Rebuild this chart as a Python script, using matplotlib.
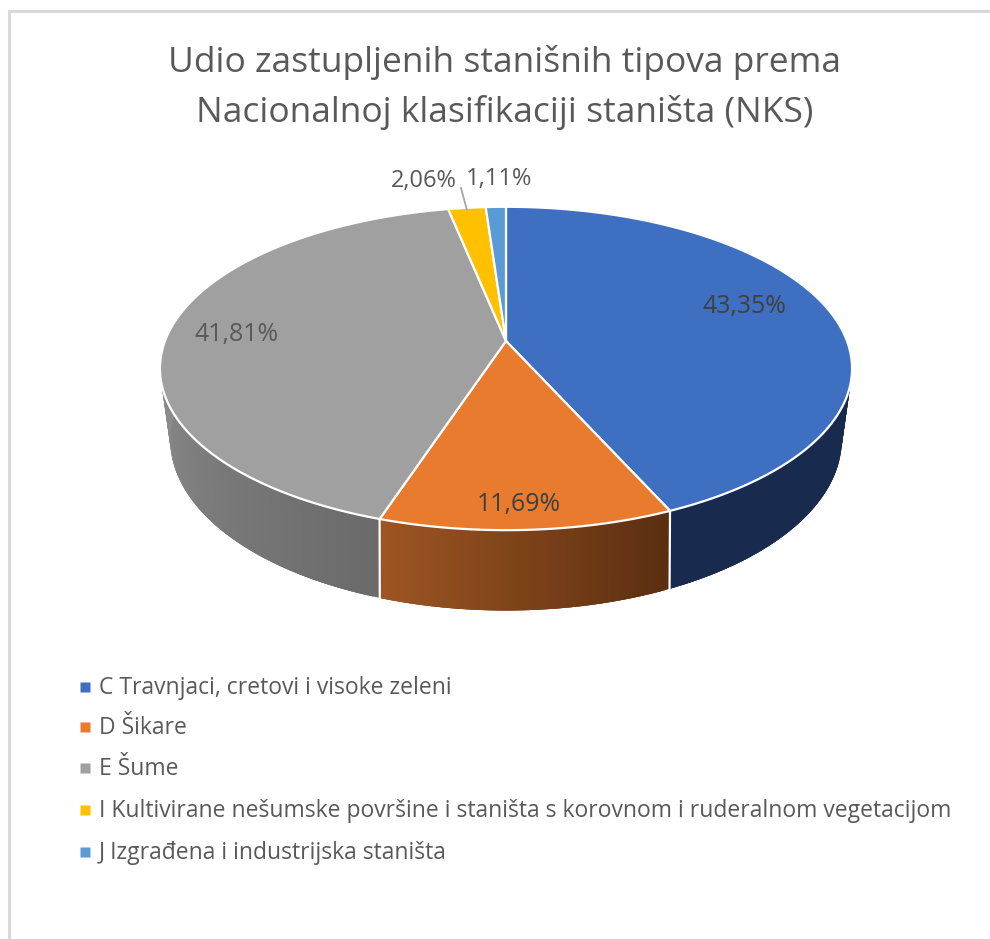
"""Udio stanisnih tipova (NKS) - 3D pie in the style of an Excel chart."""

import matplotlib
matplotlib.use("Agg")
import matplotlib.pyplot as plt
import numpy as np

plt.rcParams["font.family"] = ["Open Sans", "DejaVu Sans"]

TITLE_LINES = [
    "Udio zastupljenih stanišnih tipova prema",
    "Nacionalnoj klasifikaciji staništa (NKS)",
]
categories = [
    "C Travnjaci, cretovi i visoke zeleni",
    "D Šikare",
    "E Šume",
    "I Kultivirane nešumske površine i staništa s korovnom i ruderalnom vegetacijom",
    "J Izgrađena i industrijska staništa",
]
shares = [43.35, 11.69, 41.81, 2.06, 1.11]

colors = ["#3f6fc0", "#e97b2e", "#a0a0a0", "#ffc000", "#5b9bd5"]
# wall colour at the start and end of each slice (clockwise)
wall_start = ["#182a4e", "#5a2e10", "#6a6a6a", "#806000", "#2e4e6b"]
wall_end = ["#182a4e", "#9e5523", "#929292", "#806000", "#2e4e6b"]

TEXT_COL = "#595959"

# perspective of the two discs: a, b, k, y of the centre
TOP = (341.0, 157.0, 0.17, 341.0)
BOTTOM = (329.0, 164.0, 0.20, 405.5)
CX = 506.0


def project(theta, disc, r=1.0):
    """theta in radians, clockwise from 12 o'clock -> picture coordinates."""
    a, b, k, y0 = disc
    u = r * np.sin(theta)
    v = r * np.cos(theta)
    d = 1 + k * v
    return CX + a * u / d, y0 - b * v / d


def hex_rgb(c):
    return np.array(matplotlib.colors.to_rgb(c))


fig = plt.figure(figsize=(9.9, 9.39), dpi=100)
ax = fig.add_axes([0, 0, 1, 1])
ax.set_xlim(0, 990)
ax.set_ylim(939, 0)
ax.axis("off")

# frame of the screenshot
ax.plot([8.5, 8.5, 990], [939, 11, 11], color="#d9d9d9", lw=2.2, solid_joinstyle="miter")

total = sum(shares)
edges = np.concatenate([[0], np.cumsum(shares)]) / total * 2 * np.pi

# side walls, only the part facing us
for i in range(len(shares)):
    lo, hi = max(edges[i], np.radians(85)), min(edges[i + 1], np.radians(275))
    if hi <= lo:
        continue
    steps = np.linspace(lo, hi, 80)
    c0, c1 = hex_rgb(wall_start[i]), hex_rgb(wall_end[i])
    for j in range(len(steps) - 1):
        # each strip runs over the next one, otherwise the seams show as stripes
        t = np.array([steps[j], steps[min(j + 3, len(steps) - 1)]])
        xt, yt = project(t, TOP)
        xb, yb = project(t, BOTTOM)
        c = c0 + (c1 - c0) * j / (len(steps) - 2)
        ax.fill([xt[0], xt[1], xb[1], xb[0]], [yt[0], yt[1], yb[1], yb[0]],
                facecolor=c, edgecolor="none", zorder=2)
    # white seam between walls
    if edges[i] > np.radians(85) and edges[i] < np.radians(275):
        xt, yt = project(edges[i], TOP)
        xb, yb = project(edges[i], BOTTOM)
        ax.plot([xt, xb], [yt, yb], color="white", lw=1.6, zorder=3)

# top face
for i in range(len(shares)):
    t = np.linspace(edges[i], edges[i + 1], 200)
    xs, ys = project(t, TOP)
    xs = np.concatenate([[CX], xs])
    ys = np.concatenate([[TOP[3]], ys])
    ax.fill(xs, ys, facecolor=colors[i], edgecolor="white", lw=1.6, joinstyle="round", zorder=4)

# title
for line, y in zip(TITLE_LINES, [63, 113]):
    ax.text(505, y, line, ha="center", va="center", fontsize=25.5, color=TEXT_COL, zorder=6)

# data labels
label_pos = [(744, 307), (519, 505), (237, 334), (424, 181), (498.5, 179)]
label_size = [17.9, 17.9, 17.9, 17, 17]
for v, (x, y), fs in zip(shares, label_pos, label_size):
    ax.text(x, y, f"{v:.2f}%".replace(".", ","), ha="center", va="center",
            fontsize=fs, color="#404040" if x > 450 and y > 200 else TEXT_COL, zorder=6)

# leader line for 2,06%
xl, yl = project((edges[3] + edges[4]) / 2, TOP)
ax.plot([461, xl], [188, yl + 2], color="#a6a6a6", lw=1.3, zorder=5)

# legend
legend_y = [688, 728, 769, 811, 853]
for name, col, y in zip(categories, colors, legend_y):
    ax.plot([84.5], [y - 1], marker="s", ms=6.5, mec="none", color=col, zorder=6)
    ax.text(99, y, name, ha="left", va="center", fontsize=16.5, color=TEXT_COL, zorder=6)

fig.savefig("out.png", dpi=100)
